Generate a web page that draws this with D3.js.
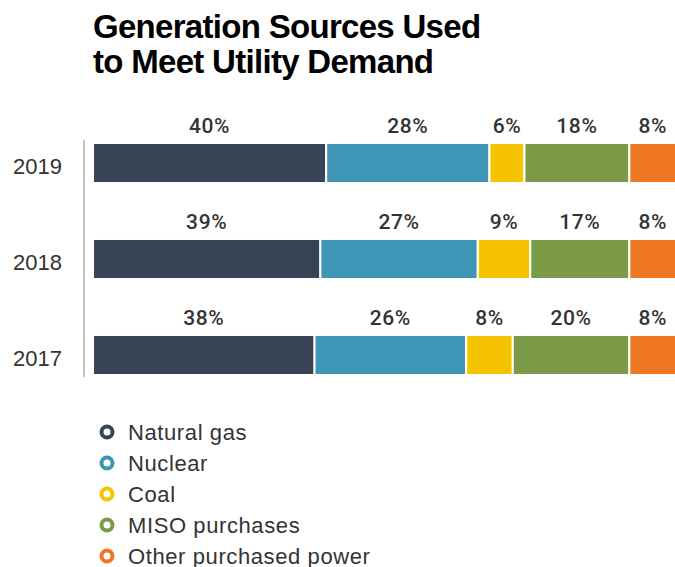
<!DOCTYPE html>
<html>
<head>
<meta charset="utf-8">
<script src="https://cdn.jsdelivr.net/npm/d3@7"></script>
<style>
  body { margin: 0; background: #fff; }
  svg { display: block; }
</style>
</head>
<body>
<div id="chart"></div>
<script>
// chart data
const years = ["2019", "2018", "2017"];
const sources = ["Natural gas", "Nuclear", "Coal", "MISO purchases", "Other purchased power"];
const naturalGas = [40, 39, 38];
const nuclear = [28, 27, 26];
const coal = [6, 9, 8];
const miso = [18, 17, 20];
const otherPower = [8, 8, 8];
const colors = ["#384455", "#3f95b5", "#f5c300", "#7a9a47", "#ef7622"];

const w = 675, h = 567;

const svg = d3.select("#chart").append("svg")
  .attr("width", w)
  .attr("height", h);

// title
svg.append("text")
  .attr("x", 93).attr("y", 38)
  .attr("font-family", "Liberation Sans, Arial, sans-serif")
  .attr("font-weight", "bold")
  .attr("font-size", 33)
  .attr("letter-spacing", -0.7)
  .attr("fill", "#000")
  .selectAll("tspan")
  .data(["Generation Sources Used", "to Meet Utility Demand"])
  .enter().append("tspan")
  .attr("x", 93)
  .attr("dy", (d, i) => i === 0 ? 0 : 35)
  .text(d => d);

const series = [naturalGas, nuclear, coal, miso, otherPower];
const rows = years.map((y, i) => {
  const row = { year: y };
  sources.forEach((s, j) => row[s] = series[j][i]);
  return row;
});

const stacked = d3.stack().keys(sources)(rows);

const xScale = d3.scaleLinear()
  .domain([0, 100])
  .range([93, 676]);

const yScale = d3.scaleBand()
  .domain(years)
  .range([143, 375])
  .paddingInner(0.583)
  .paddingOuter(0);

const color = d3.scaleOrdinal().domain(sources).range(colors);

// y axis (line + year labels)
const yAxis = d3.axisLeft(yScale).tickSize(0).tickPadding(22);
const gy = svg.append("g")
  .attr("transform", "translate(84,0)")
  .call(yAxis);
gy.select(".domain").remove();
gy.selectAll("text")
  .attr("font-family", "Liberation Sans, Arial, sans-serif")
  .attr("font-size", 22)
  .attr("fill", "#333")
  .attr("dy", "0.5em");

svg.append("line")
  .attr("x1", 84).attr("x2", 84)
  .attr("y1", 140).attr("y2", 377)
  .attr("stroke", "#c4c4c4")
  .attr("stroke-width", 2);

const layer = svg.selectAll(".layer")
  .data(stacked)
  .enter().append("g")
  .attr("class", "layer")
  .attr("fill", d => color(d.key));

layer.selectAll("rect")
  .data(d => d)
  .enter().append("rect")
  .attr("x", d => xScale(d[0]))
  .attr("y", d => yScale(d.data.year))
  .attr("width", d => xScale(d[1]) - xScale(d[0]))
  .attr("height", yScale.bandwidth())
  .attr("stroke", "#fff")
  .attr("stroke-width", 2);

layer.selectAll("text")
  .data(d => d)
  .enter().append("text")
  .attr("x", d => (xScale(d[0]) + xScale(d[1])) / 2)
  .attr("y", d => yScale(d.data.year) - 10)
  .attr("text-anchor", "middle")
  .attr("font-family", "Roboto, sans-serif")
  .attr("font-weight", 500)
  .attr("font-size", 21)
  .attr("letter-spacing", 0.6)
  .attr("fill", "#333")
  .text(d => (d[1] - d[0]) + "%");

// legend
const legend = svg.append("g")
  .selectAll("g")
  .data(sources)
  .enter().append("g")
  .attr("transform", (d, i) => "translate(107," + (432 + i * 31) + ")");

legend.append("circle")
  .attr("r", 5.5)
  .attr("fill", "none")
  .attr("stroke", d => color(d))
  .attr("stroke-width", 4);

legend.append("text")
  .attr("x", 21)
  .attr("y", 7.5)
  .attr("font-family", "Liberation Sans, Arial, sans-serif")
  .attr("font-size", 22)
  .attr("letter-spacing", 0.6)
  .attr("fill", "#333")
  .text(d => d);
</script>
</body>
</html>
